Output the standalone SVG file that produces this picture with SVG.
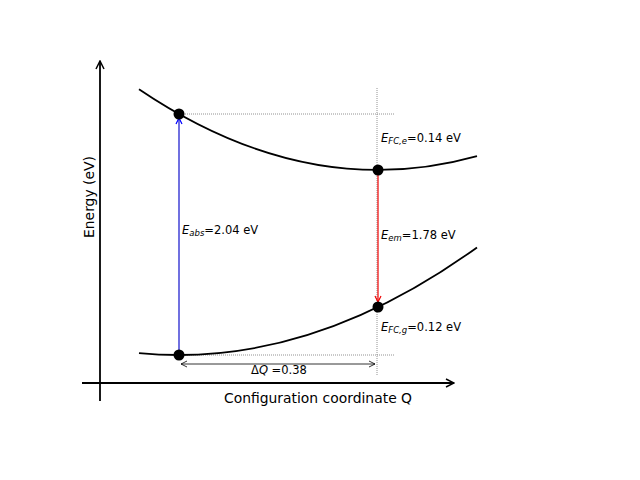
<svg xmlns="http://www.w3.org/2000/svg" width="640" height="480" viewBox="0 0 640 480">
<style>
text{font-family:"DejaVu Sans","Liberation Sans",sans-serif;fill:#000}
.lbl{font-size:11.5px}
.ax{font-size:13.9px}
.curve{fill:none;stroke:#000;stroke-width:1.8}
.dot{fill:#000}
.guide{stroke:#777;stroke-width:0.8;stroke-dasharray:1,1;fill:none}
</style>
<defs>
<marker id="ah" markerWidth="10" markerHeight="10" refX="9" refY="5" orient="auto" markerUnits="userSpaceOnUse">
<path d="M1,1 L9,5 L1,9" fill="none" stroke="#000" stroke-width="1.5"/>
</marker>
<marker id="ahs" markerWidth="8" markerHeight="8" refX="7" refY="4" orient="auto-start-reverse" markerUnits="userSpaceOnUse">
<path d="M1,1 L7,4 L1,7" fill="none" stroke="#000" stroke-width="0.8"/>
</marker>
<marker id="ahb" markerWidth="8" markerHeight="8" refX="7" refY="4" orient="auto" markerUnits="userSpaceOnUse">
<path d="M1,1 L7,4 L1,7" fill="none" stroke="#00f" stroke-width="1.2"/>
</marker>
<marker id="ahr" markerWidth="8" markerHeight="8" refX="7" refY="4" orient="auto" markerUnits="userSpaceOnUse">
<path d="M1,1 L7,4 L1,7" fill="none" stroke="#e00" stroke-width="1.2"/>
</marker>
</defs>
<g id="axes">
<line x1="100" y1="401" x2="100" y2="61" stroke="#000" stroke-width="1.8" marker-end="url(#ah)"/>
<line x1="82" y1="383" x2="454" y2="383" stroke="#000" stroke-width="1.8" marker-end="url(#ah)"/>
<text class="ax" x="318" y="403" text-anchor="middle">Configuration coordinate Q</text>
<text class="ax" transform="translate(94,197) rotate(-90)" text-anchor="middle">Energy (eV)</text>
</g>
<g id="guides">
<line class="guide" x1="179" y1="114" x2="394" y2="114"/>
<line class="guide" x1="179" y1="355" x2="394" y2="355"/>
<line class="guide" x1="377" y1="88" x2="377" y2="376"/>
</g>
<g id="curves">
<path id="excited" class="curve" d="M139,89.2 Q308,203.4 477,156.1"/>
<path id="ground" class="curve" d="M139,353.1 Q308,369.4 477,247.4"/>
</g>
<g id="connectors">
<line x1="179" y1="355" x2="179" y2="118" stroke="#11c" stroke-width="1.2" marker-end="url(#ahb)"/>
<line x1="378" y1="170" x2="378" y2="302" stroke="#e00" stroke-width="1.2" marker-end="url(#ahr)"/>
<line x1="181" y1="364" x2="375" y2="364" stroke="#000" stroke-width="0.8" marker-start="url(#ahs)" marker-end="url(#ahs)"/>
</g>
<g id="points">
<circle class="dot" cx="179" cy="114" r="5.5"/>
<circle class="dot" cx="378" cy="170" r="5.5"/>
<circle class="dot" cx="378" cy="307" r="5.5"/>
<circle class="dot" cx="179" cy="355" r="5.5"/>
</g>
<g id="labels">
<text class="lbl" x="381" y="142"><tspan font-style="italic">E</tspan><tspan font-style="italic" font-size="8.5" dy="2">FC,e</tspan><tspan dy="-2">=0.14 eV</tspan></text>
<text class="lbl" x="381" y="239"><tspan font-style="italic">E</tspan><tspan font-style="italic" font-size="8.5" dy="2">em</tspan><tspan dy="-2">=1.78 eV</tspan></text>
<text class="lbl" x="381" y="331"><tspan font-style="italic">E</tspan><tspan font-style="italic" font-size="8.5" dy="2">FC,g</tspan><tspan dy="-2">=0.12 eV</tspan></text>
<text class="lbl" x="182" y="234"><tspan font-style="italic">E</tspan><tspan font-style="italic" font-size="8.5" dy="2">abs</tspan><tspan dy="-2">=2.04 eV</tspan></text>
<text class="lbl" x="251" y="374">Δ<tspan font-style="italic">Q</tspan> =0.38</text>
</g>
</svg>
